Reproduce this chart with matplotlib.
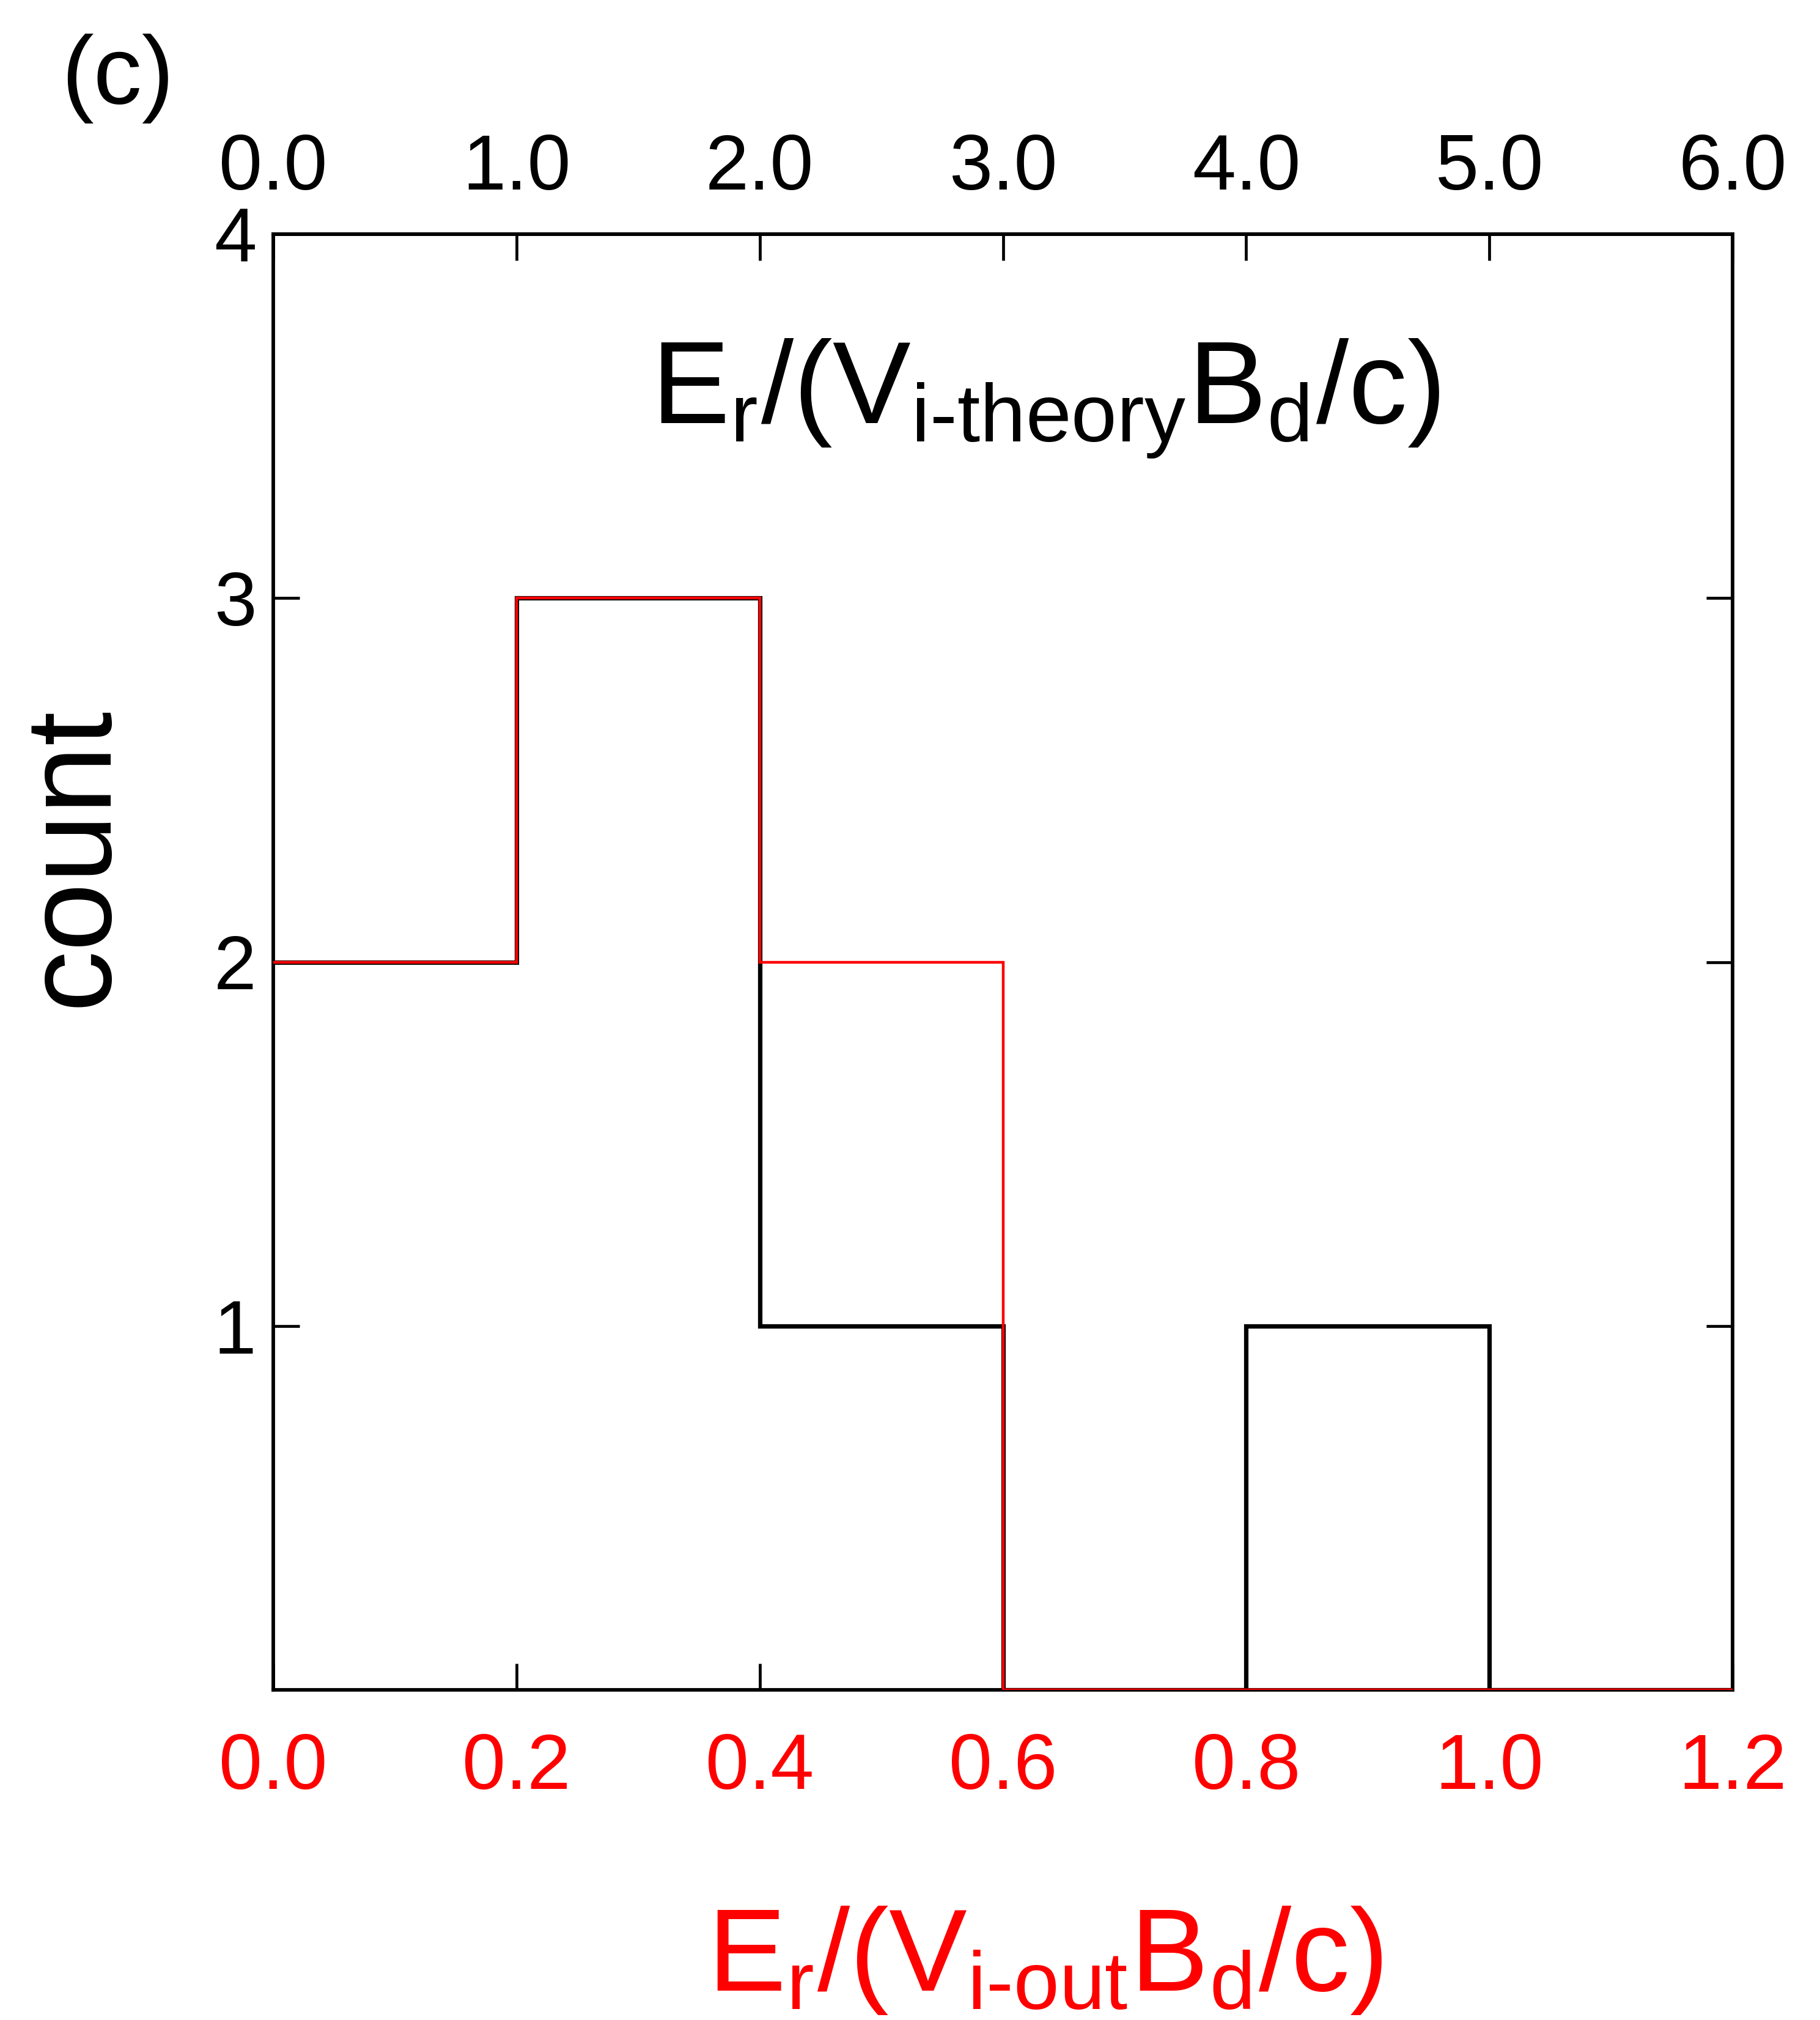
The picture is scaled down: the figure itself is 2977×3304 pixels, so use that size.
import matplotlib
matplotlib.use("Agg")
import matplotlib.pyplot as plt
import numpy as np

# ---- data ----
bin_edges_out = [0.0, 0.2, 0.4, 0.6, 0.8, 1.0, 1.2]          # bottom (red) axis
counts_out = [2, 3, 2, 0, 0, 0]                               # red histogram
counts_theory = [2, 3, 1, 0, 1, 0]                            # black histogram
bottom_ticks = [0.0, 0.2, 0.4, 0.6, 0.8, 1.0, 1.2]
bottom_ticklabels = ["0.0", "0.2", "0.4", "0.6", "0.8", "1.0", "1.2"]
top_ticks = [0.0, 1.0, 2.0, 3.0, 4.0, 5.0, 6.0]
top_ticklabels = ["0.0", "1.0", "2.0", "3.0", "4.0", "5.0", "6.0"]
y_ticks = [1, 2, 3, 4]
y_ticklabels = ["1", "2", "3", "4"]
top_scale = 5.0   # top axis value = bottom axis value * 5

plt.rcParams['font.family'] = ['Liberation Sans', 'DejaVu Sans']
plt.rcParams['mathtext.fontset'] = 'custom'
plt.rcParams['mathtext.rm'] = 'Liberation Sans'
plt.rcParams['mathtext.it'] = 'Liberation Sans'
plt.rcParams['mathtext.bf'] = 'Liberation Sans:bold'

W, H = 2977, 3304
fig = plt.figure(figsize=(W / 100, H / 100), dpi=100)
L, R, T, B = 447, 2834, 383, 2764
ax = fig.add_axes([L / W, 1 - B / H, (R - L) / W, (B - T) / H])

ax.stairs(counts_theory, bin_edges_out, baseline=None, color='black', lw=5.2, zorder=3)
ax.stairs(counts_out, bin_edges_out, baseline=None, color='#ff0000', lw=3.2, zorder=4)

ax.set_xlim(0, 1.2)
ax.set_ylim(0, 4)
for s in ax.spines.values():
    s.set_linewidth(4.2)
    s.set_zorder(2)

ax.set_xticks(bottom_ticks)
ax.set_xticklabels(bottom_ticklabels, color='#ff0000')
ax.set_yticks(y_ticks)
ax.set_yticklabels(y_ticklabels)
ax.tick_params(axis='x', which='major', direction='in', length=31, width=3.4,
               labelsize=92, pad=50, bottom=True, top=False)
ax.tick_params(axis='y', which='major', direction='in', length=31, width=3.4,
               labelsize=90, pad=20, left=True, right=True)

secx = ax.secondary_xaxis('top', functions=(lambda x: x * top_scale, lambda x: x / top_scale))
secx.set_xticks(top_ticks)
secx.set_xticklabels(top_ticklabels)
secx.tick_params(axis='x', direction='in', length=31, width=3.4, labelsize=92, pad=33)
secx.spines['top'].set_linewidth(4.2)

fig.text(1710 / W, 1 - 652 / H,
         r'$\mathregular{E_r/(V_{i\text{-}theory}B_d/c)}$',
         fontsize=138, ha='center', va='center', color='black')
fig.text(1709 / W, 1 - 3207 / H,
         r'$\mathregular{E_r/(V_{i\text{-}out}B_d/c)}$',
         fontsize=138, ha='center', va='center', color='#ff0000')
fig.text(122 / W, 1 - 1401 / H, 'count', fontsize=145, rotation=90,
         ha='center', va='center', color='black')
fig.text(192 / W, 1 - 128 / H, '(c)', fontsize=114, ha='center', va='center', color='black')

fig.savefig('out.png', dpi=100, facecolor='white')
